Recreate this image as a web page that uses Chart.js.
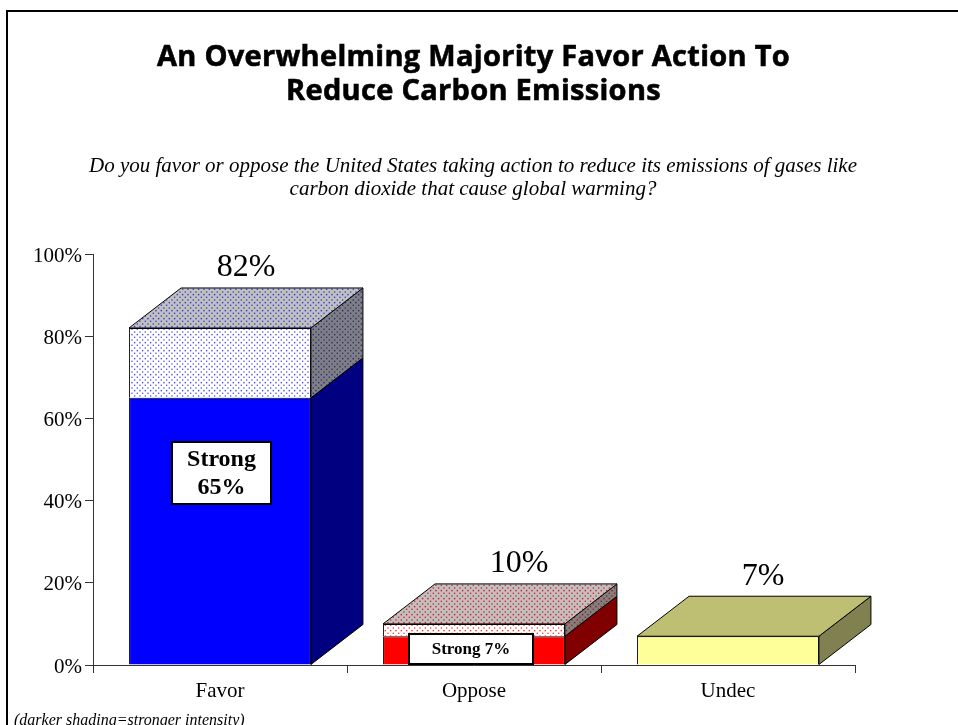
<!DOCTYPE html>
<html><head><meta charset="utf-8">
<script src="https://cdn.jsdelivr.net/npm/chart.js@4"></script>
<style>html,body{margin:0;padding:0;background:#fff;overflow:hidden}canvas{display:block}</style>
</head><body><canvas id="c" width="958" height="725"></canvas>
<script>
const categories = ['Favor','Oppose','Undec'];
const strongValues = [65,7,0];
const otherValues = [17,3,7];
const totalLabels = ['82%','10%','7%'];
const yTicks = [0,20,40,60,80,100];
const titleLines = ['An Overwhelming Majority Favor Action To','Reduce Carbon Emissions'];
const questionLines = ['Do you favor or oppose the United States taking action to reduce its emissions of gases like','carbon dioxide that cause global warming?'];
const footnote = '(darker shading=stronger intensity)';

const SERIF = '"Liberation Serif"';
function dots(bg, dot){
  const t=document.createElement('canvas');t.width=16;t.height=16;
  const g=t.getContext('2d');g.fillStyle=bg;g.fillRect(0,0,16,16);
  g.fillStyle=dot;
  for(let r=0;r<6;r++){
    for(let k=0;k<3;k++){
      const x=(k*16/3+(r%2?8/3:0)+1.3)%16, y=r*8/3+1.3;
      g.beginPath();g.arc(x,y,0.8,0,Math.PI*2);g.fill();
    }
  }
  return document.createElement('canvas').getContext('2d').createPattern(t,'repeat');
}
const strongFront=['#0000ff','#ff0000','#ffffff'];
const strongSide=['#000080','#800000','#808050'];
const otherFront=[dots('#ffffff','#4a4aff'),dots('#ffffff','#ff3030'),'#ffff99'];
const otherTop=[dots('#c0c0c0','#3838d0'),dots('#c0c0c0','#e01818'),'#bfbf73'];
const otherSide=[dots('#808080','#202090'),dots('#808080','#a81010'),'#808050'];
const depthX=52, depthY=40;
const labelShift=[26,45,35];

const scene={
  id:'scene',
  beforeDatasetsDraw(chart){
    const c=chart.ctx;
    const a=chart.getDatasetMeta(0).data, b=chart.getDatasetMeta(1).data;
    const poly=(pts,fill)=>{c.beginPath();pts.forEach((p,i)=>i?c.lineTo(p[0],p[1]):c.moveTo(p[0],p[1]));c.closePath();c.fillStyle=fill;c.fill();c.strokeStyle='#000';c.lineWidth=1;c.stroke();};
    categories.forEach((_,i)=>{
      const s=a[i], o=b[i];
      const l=o.x-o.width/2, r=o.x+o.width/2;
      const segs=[[s.base,s.y,strongSide[i]],[o.base,o.y,otherSide[i]]];
      segs.forEach(q=>{
        if(q[0]-q[1]<0.5) return;
        poly([[r,q[0]],[r+depthX,q[0]-depthY],[r+depthX,q[1]-depthY],[r,q[1]]],q[2]);
      });
      poly([[l,o.y],[l+depthX,o.y-depthY],[r+depthX,o.y-depthY],[r,o.y]],otherTop[i]);
    });
  },
  afterDatasetsDraw(chart){
    const c=chart.ctx;
    const b=chart.getDatasetMeta(1).data;
    c.save();
    c.textAlign='center';c.textBaseline='middle';c.fillStyle='#000';
    c.font='32px '+SERIF;
    categories.forEach((_,i)=>{
      c.fillText(totalLabels[i],b[i].x+labelShift[i],b[i].y-depthY-20);
    });
    const box=(x,y,w,h,lines,font,lh)=>{
      c.fillStyle='#fff';c.fillRect(x,y,w,h);
      c.strokeStyle='#000';c.lineWidth=2;c.strokeRect(x,y,w,h);
      c.fillStyle='#000';c.font=font;
      lines.forEach((t,k)=>c.fillText(t,x+w/2,y+h/2+(k-(lines.length-1)/2)*lh+1));
    };
    box(172,442,99,62,['Strong','65%'],'bold 24px '+SERIF,28);
    box(409,634,124,30,['Strong 7%'],'bold 17px '+SERIF,18);
    c.restore();
  },
  afterDraw(chart){
    const c=chart.ctx;
    c.save();
    c.strokeStyle='#000';c.lineWidth=2;
    c.beginPath();c.moveTo(7,725);c.lineTo(7,11);c.lineTo(958,11);c.stroke();
    c.textAlign='center';c.textBaseline='middle';c.fillStyle='#000';
    c.font='bold 29px "Open Sans"';
    c.letterSpacing='0.3px';
    c.strokeStyle='#000';c.lineWidth=0.6;
    titleLines.forEach((t,i)=>{c.fillText(t,473.5,58+i*34);c.strokeText(t,473.5,58+i*34);});
    c.letterSpacing='0px';
    c.font='italic 21px '+SERIF;
    questionLines.forEach((t,i)=>c.fillText(t,473,166+i*23));
    c.textAlign='left';
    c.font='italic 16px '+SERIF;
    c.fillText(footnote,14,721);
    c.restore();
  }
};
new Chart(document.getElementById('c'),{
  type:'bar',
  data:{labels:categories,datasets:[
    {label:'Strong',data:strongValues,backgroundColor:strongFront,borderColor:'#000',borderWidth:1,stack:'s'},
    {label:'Total',data:otherValues,backgroundColor:otherFront,borderColor:'#000',borderWidth:1,stack:'s'}
  ]},
  options:{
    responsive:false,animation:false,
    layout:{padding:{left:0,right:103,top:254,bottom:0}},
    datasets:{bar:{categoryPercentage:1,barPercentage:0.716}},
    plugins:{legend:{display:false},tooltip:{enabled:false},title:{display:false}},
    scales:{
      x:{stacked:true,
        afterFit(s){s.height=60;},
        grid:{drawOnChartArea:false,offset:true,color:'#333',tickLength:8,tickColor:'#333'},
        border:{color:'#333'},
        ticks:{color:'#000',font:{family:'Liberation Serif',size:21},padding:6,maxRotation:0}},
      y:{stacked:true,min:0,max:100,
        afterFit(s){s.width=93;},
        afterBuildTicks(s){s.ticks=yTicks.map(v=>({value:v}));},
        grid:{drawOnChartArea:false,color:'#333',tickLength:8,tickColor:'#333'},
        border:{color:'#333'},
        ticks:{color:'#000',font:{family:'Liberation Serif',size:21},padding:3,labelOffset:2,callback:v=>v+'%'}}
    }
  },
  plugins:[scene]
});
</script></body></html>
